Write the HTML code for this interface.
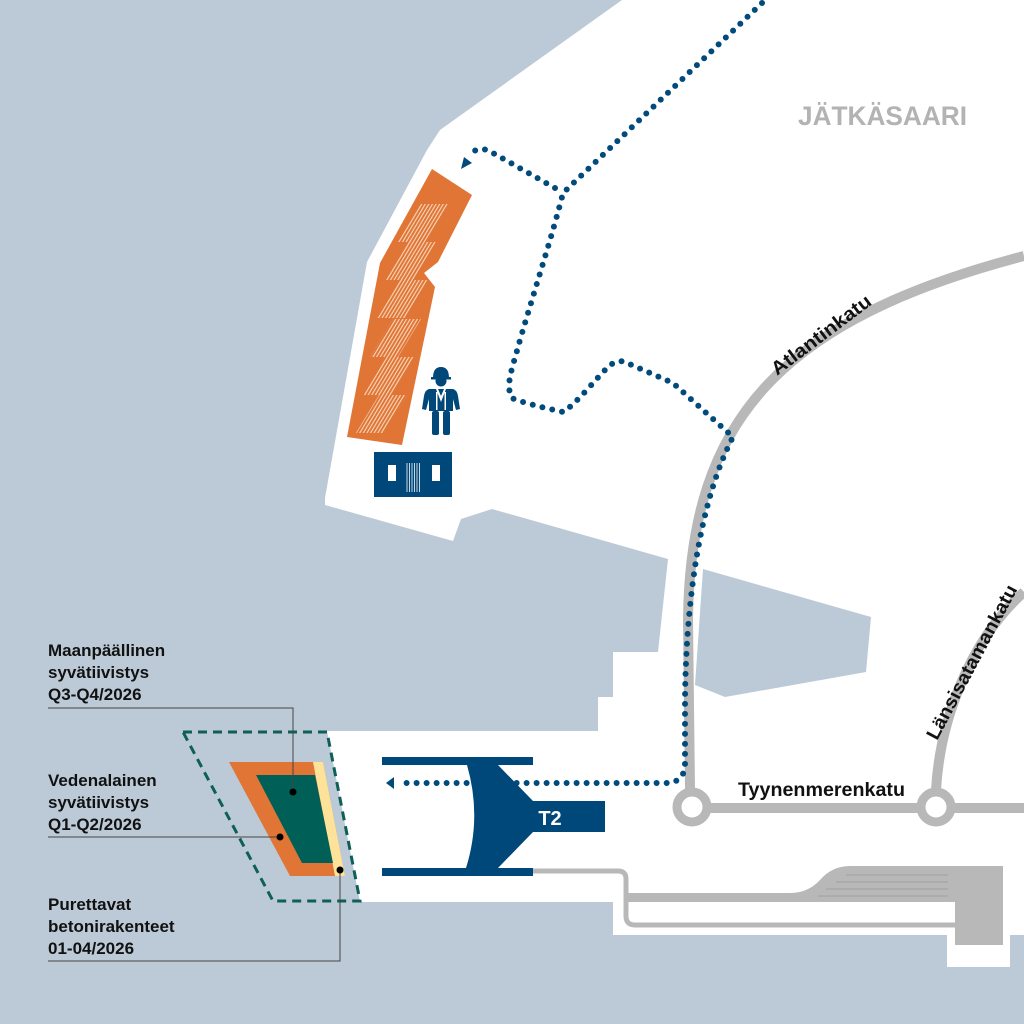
<!DOCTYPE html>
<html><head><meta charset="utf-8"><style>
html,body{margin:0;padding:0;background:#bccad7}
svg{display:block}
text{font-family:"Liberation Sans",sans-serif}
</style></head><body>
<svg width="1024" height="1024" viewBox="0 0 1024 1024" xmlns="http://www.w3.org/2000/svg">
<defs>
<pattern id="hatch" patternUnits="userSpaceOnUse" width="3.6" height="10" patternTransform="skewX(-31)">
<rect x="0" y="0" width="1.4" height="10" fill="#f6cfb0"/>
</pattern>
</defs>
<rect width="1024" height="1024" fill="#bccad7"/>
<path d="M622,0 L1024,0 L1024,935 L1010,935 L1010,967 L947,967 L947,935 L613,935 L613,902 L360,902 L327,731 L598,731 L598,697 L613,697 L613,652 L658,652 L668,559 L492,509 L461,519 L453,541 L325,505 L325,498 L367,262 L427,150 L440,130 Z" fill="#fff"/>
<path d="M703,569 L871,617 L866,672 L725,697 L695,685 Z" fill="#bccad7"/>

<g fill="none" stroke="#b8b8b8" stroke-width="10">
<path d="M690,790 L688,620 C690,420 780,320 1024,256"/>
<path d="M936,790 C940,720 970,640 1024,592"/>
<line x1="692" y1="808" x2="1024" y2="808"/>
</g>
<circle cx="692" cy="807" r="15" fill="#fff" stroke="#b8b8b8" stroke-width="9"/>
<circle cx="936" cy="807" r="15" fill="#fff" stroke="#b8b8b8" stroke-width="9"/>

<g fill="none" stroke="#b8b8b8" stroke-width="5">
<path d="M533,871 L618,871 Q626,871 626,879 L626,916 Q626,925 635,925 L956,925"/>
</g>
<path d="M628,893 L790,893 Q808,893 820,880 Q832,866 850,866 L1003,866 L1003,945 L955,945 L955,902 L628,902 Z" fill="#b8b8b8"/>
<g stroke="#9a9a9a" stroke-width="0.8">
<line x1="846" y1="875" x2="948" y2="875"/>
<line x1="836" y1="882" x2="948" y2="882"/>
<line x1="826" y1="889" x2="948" y2="889"/>
<line x1="818" y1="896" x2="948" y2="896"/>
</g>

<g fill="none" stroke="#004a7c" stroke-width="6" stroke-linecap="round" stroke-dasharray="0 10">
<path d="M762,3 L563,193 C553,233 537,282 520,340 C512,370 505,385 512,398 C520,402 545,408 563,412 C575,405 595,380 607,368 C615,360 622,360 627,363 L673,383 L733,437 C700,500 686,600 685,700 L685,765 Q684,783 665,783 L398,783"/>
<path d="M555,188 L493,153 C485,148 477,147 469,155"/>
</g>
<path d="M461,169 L464,157 L472,163 Z" fill="#004a7c"/>
<path d="M386,783 L394,777 L394,789 Z" fill="#004a7c"/>

<g fill="#00477a">
<rect x="382" y="757" width="151" height="8"/>
<rect x="382" y="868" width="151" height="8"/>
<path d="M467,765 L498,765 L533,801 L605,801 L605,832 L533,832 L498,868 L466,868 Q482,817 467,765 Z"/>
</g>
<text x="550" y="825" font-size="20" font-weight="bold" fill="#fff" text-anchor="middle">T2</text>

<path d="M432,169 L472,195 L438,262 L424,273 L435,287 L402,445 L347,437 L380,263 Z" fill="#e07535"/>
<g fill="url(#hatch)">
<path d="M397,242 L425,242 L448,204 L420,204 Z"/>
<path d="M385,280 L413,280 L436,242 L408,242 Z"/>
<path d="M377,318 L405,318 L428,280 L400,280 Z"/>
<path d="M370,357 L398,357 L421,319 L393,319 Z"/>
<path d="M363,395 L391,395 L414,357 L386,357 Z"/>
<path d="M356,433 L384,433 L407,395 L379,395 Z"/>
</g>

<g fill="#00477a">
<path d="M433,378 Q433,367 441,367 Q449,367 449,378 Z"/>
<rect x="431" y="377" width="20" height="2.5"/>
<circle cx="441" cy="381" r="5.5"/>
<path d="M429,389 L453,389 Q457,390 458,396 L460,409 L456,410 L453,399 L453,411 L429,411 L429,399 L426,410 L422,409 L424,396 Q425,390 429,389 Z"/>
<rect x="432" y="411" width="7" height="24" rx="2"/>
<rect x="443" y="411" width="7" height="24" rx="2"/>
</g>
<path d="M436,389 L441,402 L446,389 L444,389 L441,396 L438,389 Z" fill="#fff"/>
<rect x="436" y="392" width="1.5" height="18" fill="#fff"/>
<rect x="444.5" y="392" width="1.5" height="18" fill="#fff"/>

<rect x="374" y="452" width="78" height="45" fill="#00477a"/>
<rect x="388" y="465" width="8" height="16" fill="#fff"/>
<rect x="432" y="465" width="8" height="16" fill="#fff"/>
<g stroke="#dfe7ef" stroke-width="0.9">
<line x1="407" y1="463" x2="407" y2="492"/><line x1="409.5" y1="463" x2="409.5" y2="492"/>
<line x1="412" y1="463" x2="412" y2="492"/><line x1="414.5" y1="463" x2="414.5" y2="492"/>
<line x1="417" y1="463" x2="417" y2="492"/><line x1="419.5" y1="463" x2="419.5" y2="492"/>
</g>

<path d="M183,732 L327,732 L360,901 L273,901 Z" fill="none" stroke="#0e5f57" stroke-width="3" stroke-dasharray="9,6"/>
<path d="M229,762 L323,762 L345,876 L290,876 Z" fill="#e07535"/>
<path d="M313,762 L323,762 L345,876 L335,876 Z" fill="#fde39a"/>
<path d="M256,775 L315,775 L333,863 L302,863 Z" fill="#005f57"/>

<g fill="none" stroke="#444" stroke-width="1">
<path d="M48,708 L293,708 L293,792"/>
<path d="M48,837 L280,837"/>
<path d="M48,961 L340,961 L340,870"/>
</g>
<circle cx="293" cy="792" r="3.5" fill="#000"/>
<circle cx="280" cy="837" r="3.5" fill="#000"/>
<circle cx="340" cy="870" r="3.5" fill="#000"/>

<g font-size="17" font-weight="bold" fill="#111">
<text x="48" y="656">Maanpäällinen</text>
<text x="48" y="678">syvätiivistys</text>
<text x="48" y="700">Q3-Q4/2026</text>
<text x="48" y="786">Vedenalainen</text>
<text x="48" y="808">syvätiivistys</text>
<text x="48" y="830">Q1-Q2/2026</text>
<text x="48" y="910">Purettavat</text>
<text x="48" y="932">betonirakenteet</text>
<text x="48" y="954">01-04/2026</text>
</g>

<text x="798" y="125" font-size="27" font-weight="bold" fill="#b3b3b3" textLength="169" lengthAdjust="spacingAndGlyphs">JÄTKÄSAARI</text>
<text x="0" y="0" font-size="19" font-weight="bold" fill="#111" textLength="120" lengthAdjust="spacingAndGlyphs" transform="translate(777,376) rotate(-37)">Atlantinkatu</text>
<text x="0" y="0" font-size="19" font-weight="bold" fill="#111" textLength="172" lengthAdjust="spacingAndGlyphs" transform="translate(937,741) rotate(-62)">Länsisatamankatu</text>
<text x="738" y="796" font-size="19" font-weight="bold" fill="#111" textLength="167" lengthAdjust="spacingAndGlyphs">Tyynenmerenkatu</text>
</svg>
</body></html>
